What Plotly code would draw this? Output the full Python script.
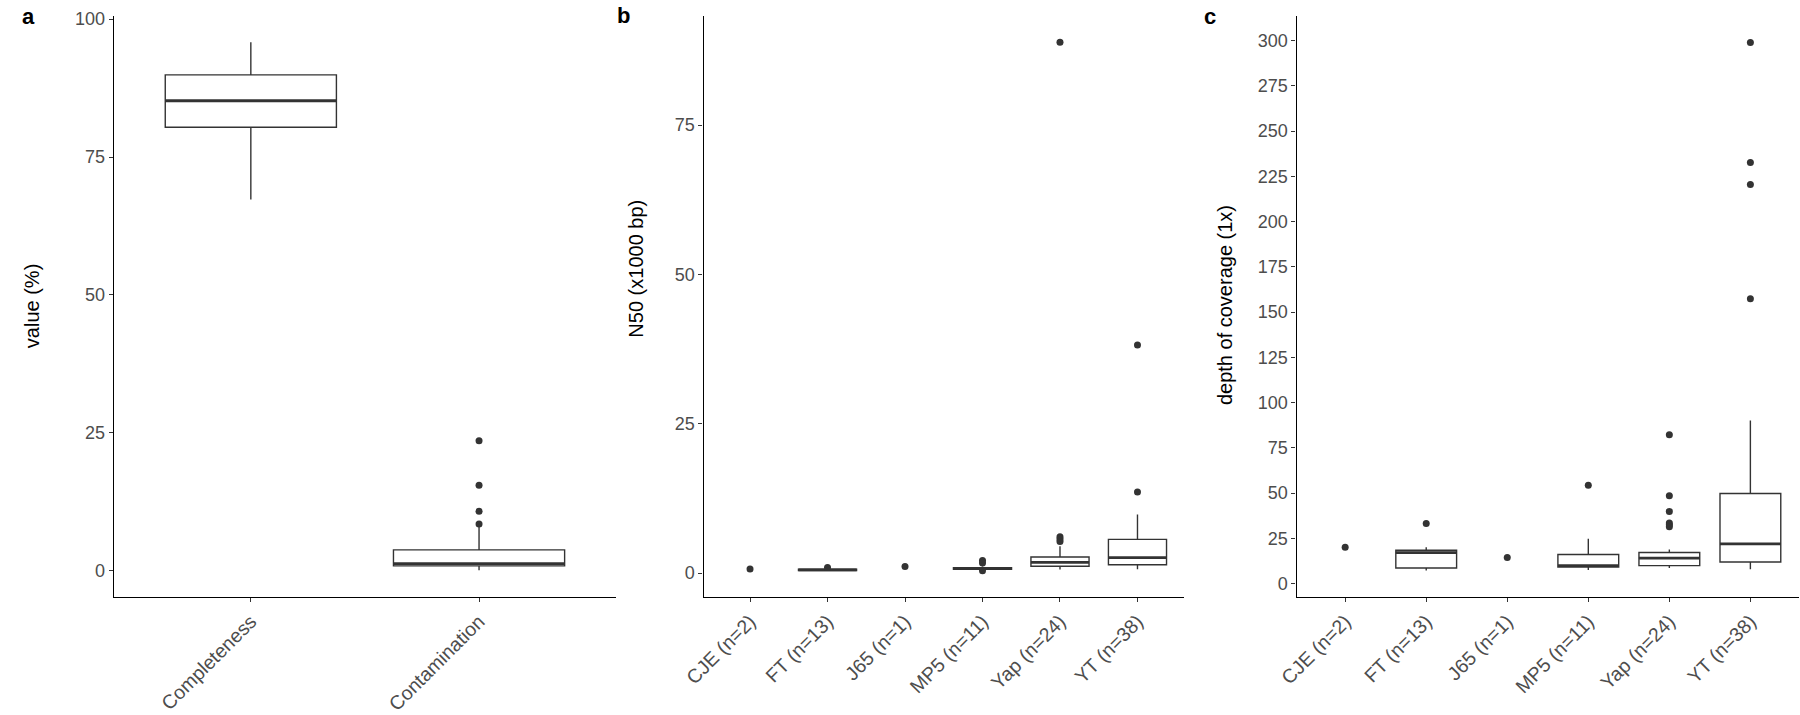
import plotly.graph_objects as go

# ---------------- data ----------------
# Panel a: CheckM stats
a_categories = ["Completeness", "Contamination"]
a_lowerfence = [67.3, 0.1]
a_q1 = [80.4, 0.9]
a_median = [85.2, 1.3]
a_q3 = [89.9, 3.8]
a_upperfence = [95.8, 8.1]
a_outliers = [[], [23.6, 15.5, 10.8, 8.5]]

# Panels b and c: groups
groups = ["CJE (n=2)", "FT (n=13)", "J65 (n=1)", "MP5 (n=11)", "Yap (n=24)", "YT (n=38)"]

# Panel b: N50 (x1000 bp); None = no box drawn for that group
b_lowerfence = [None, 0.35, None, 0.5, 0.6, 0.65]
b_q1 = [None, 0.45, None, 0.65, 1.15, 1.4]
b_median = [None, 0.55, None, 0.8, 1.8, 2.6]
b_q3 = [None, 0.65, None, 0.9, 2.7, 5.65]
b_upperfence = [None, 0.8, None, 1.1, 4.5, 9.8]
b_points = [[0.7], [0.95], [1.1], [2.1, 1.7, 0.38], [88.9, 6.1, 5.7, 5.3], [38.2, 13.6]]

# Panel c: depth of coverage (1x)
c_lowerfence = [None, 7.3, None, 7.6, 8.7, 8.0]
c_q1 = [None, 8.7, None, 9.2, 10.0, 12.0]
c_median = [None, 17.2, None, 10.0, 14.1, 22.0]
c_q3 = [None, 18.5, None, 16.1, 17.2, 49.8]
c_upperfence = [None, 20.1, None, 24.8, 18.9, 90.1]
c_points = [[20.1], [33.2], [14.5], [54.3], [82.3, 48.6, 39.9, 33.5, 32.6, 31.4], [298.9, 232.6, 220.5, 157.4]]

# ---------------- styling ----------------
W, H = 1800, 715
FONT = "Liberation Sans, Arial, sans-serif"
BOXCOL = "#333333"
TICKCOL = "#4D4D4D"
BOXW = 0.75

fig = go.Figure()


def add_panel(xaxis, yaxis, lf, q1, med, q3, uf, points):
    pos = [i + 1 for i in range(len(q1))]
    idx = [i for i in range(len(q1)) if q1[i] is not None]
    if idx:
        fig.add_trace(go.Box(
            x=[pos[i] for i in idx],
            q1=[q1[i] for i in idx], median=[med[i] for i in idx], q3=[q3[i] for i in idx],
            lowerfence=[lf[i] for i in idx], upperfence=[uf[i] for i in idx],
            width=BOXW, boxpoints=False, fillcolor="white",
            line=dict(color=BOXCOL, width=1.4), whiskerwidth=0,
            xaxis=xaxis, yaxis=yaxis, showlegend=False, hoverinfo="skip"))
        mx, my = [], []
        for i in idx:
            mx += [pos[i] - BOXW / 2, pos[i] + BOXW / 2, None]
            my += [med[i], med[i], None]
        fig.add_trace(go.Scatter(x=mx, y=my, mode="lines",
                                 line=dict(color=BOXCOL, width=2.8),
                                 xaxis=xaxis, yaxis=yaxis, showlegend=False, hoverinfo="skip"))
    px, py = [], []
    for i, pts in enumerate(points):
        for v in pts:
            px.append(pos[i])
            py.append(v)
    if px:
        fig.add_trace(go.Scatter(x=px, y=py, mode="markers",
                                 marker=dict(color=BOXCOL, size=7),
                                 xaxis=xaxis, yaxis=yaxis, showlegend=False, hoverinfo="skip"))


add_panel("x", "y", a_lowerfence, a_q1, a_median, a_q3, a_upperfence, a_outliers)
add_panel("x2", "y2", b_lowerfence, b_q1, b_median, b_q3, b_upperfence, b_points)
add_panel("x3", "y3", c_lowerfence, c_q1, c_median, c_q3, c_upperfence, c_points)

ydom = [1 - 600.5 / H, 1 - 10 / H]

common = dict(showline=True, linecolor="black", linewidth=1.4, ticks="outside",
              ticklen=4, tickwidth=1.2, tickcolor=BOXCOL, showgrid=False, zeroline=False,
              fixedrange=True)


def xax(domain, labels, anchor):
    return dict(domain=domain, range=[0.4, len(labels) + 0.6], tickmode="array",
                tickvals=[i + 1 for i in range(len(labels))], ticktext=labels,
                tickangle=-45, anchor=anchor,
                tickfont=dict(family=FONT, size=19.5, color=TICKCOL), **common)


def yax(rng, tickvals, anchor):
    return dict(domain=ydom, range=rng, tickmode="array", tickvals=tickvals,
                ticktext=[str(v) for v in tickvals], anchor=anchor,
                tickfont=dict(family=FONT, size=18, color=TICKCOL), **common)


fig.update_layout(
    width=W, height=H, margin=dict(l=0, r=0, t=0, b=0),
    paper_bgcolor="white", plot_bgcolor="white",
    font=dict(family=FONT),
    xaxis=xax([94 / W, 602 / W], a_categories, "y"),
    yaxis=yax([-4.78, 100.59], [0, 25, 50, 75, 100], "x"),
    xaxis2=xax([690.6 / W, 1176.7 / W], groups, "y2"),
    yaxis2=yax([-4.04, 93.3], [0, 25, 50, 75], "x2"),
    xaxis3=xax([1290.6 / W, 1799 / W], groups, "y3"),
    yaxis3=yax([-7.5, 313.6], list(range(0, 301, 25)), "x3"),
)

annots = [
    dict(text="value (%)", x=11, y=305),
    dict(text="N50 (x1000 bp)", x=622, y=267),
    dict(text="depth of coverage (1x)", x=1219, y=304),
]
for a in annots:
    fig.add_annotation(text=a["text"], xref="paper", yref="paper",
                       x=a["x"] / W, y=1 - a["y"] / H, textangle=-90,
                       showarrow=False, xanchor="center", yanchor="middle",
                       font=dict(family=FONT, size=20, color="black"))

for letter, lx, ly in [("a", 7.5, 11), ("b", 609.5, 10), ("c", 1203.5, 11)]:
    fig.add_annotation(text="<b>%s</b>" % letter, xref="paper", yref="paper",
                       x=lx / W, y=1 - ly / H, showarrow=False,
                       xanchor="center", yanchor="middle",
                       font=dict(family=FONT, size=22, color="black"))

fig.write_html(
    "out.html",
    config={"displayModeBar": False},
    post_script="document.body.style.margin='0';document.body.style.overflow='hidden';",
)
